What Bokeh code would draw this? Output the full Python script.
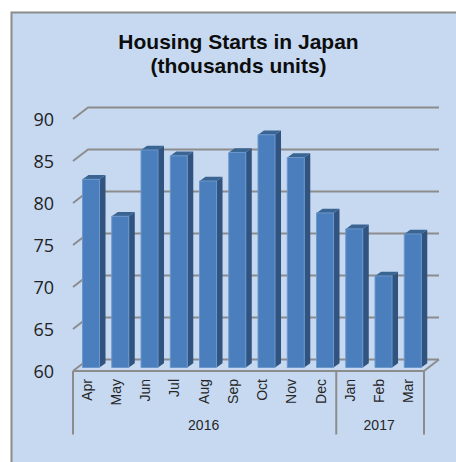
from bokeh.plotting import figure
from bokeh.embed import file_html
from bokeh.resources import INLINE
from bokeh.core.properties import value

# --- data ---
months = ["Apr", "May", "Jun", "Jul", "Aug", "Sep", "Oct", "Nov", "Dec", "Jan", "Feb", "Mar"]
starts = [82.4, 78.0, 85.9, 85.2, 82.2, 85.6, 87.7, 85.0, 78.4, 76.5, 70.9, 75.9]
years = ["2016", "2017"]
year_spans = [(0, 9), (9, 12)]
y_ticks = [60, 65, 70, 75, 80, 85, 90]
title_lines = ["Housing Starts in Japan", "(thousands units)"]

# --- geometry expressed in axis units ---
PX_X = 29.25   # px per category
PX_Y = 8.4     # px per value unit
W, H = 456, 462
X0_PAGE, Y0_PAGE = 72.5, 370.5   # page position of the axis origin
xr = (-X0_PAGE / PX_X, (W - X0_PAGE) / PX_X)
yr = (60 - (H - Y0_PAGE) / PX_Y, 60 + Y0_PAGE / PX_Y)

GRID = "#8c8c8c"
BG = "#c6d9f1"
depth_x, depth_y = 15 / PX_X, 11.5 / PX_Y          # chart depth
plane_x, plane_y = 3.4 / PX_X, 3.5 / PX_Y          # bar front plane inside depth
bar_w = 17 / PX_X
bar_dx, bar_dy = 6 / PX_X, 4.3 / PX_Y              # bar depth

p = figure(width=W, height=H, x_range=xr, y_range=yr, output_backend="svg",
           toolbar_location=None, min_border=0, outline_line_color=None,
           background_fill_color=None, border_fill_color="white")
p.xaxis.visible = False
p.yaxis.visible = False
p.grid.visible = False

# chart-area panel with its grey left and top edges
panel_l = (10 - X0_PAGE) / PX_X
panel_t = 60 + (Y0_PAGE - 11) / PX_Y
edge_x = 2 / PX_X
edge_y = 2 / PX_Y
p.quad(left=panel_l, right=xr[1], top=panel_t, bottom=yr[0], fill_color=GRID, line_color=None)
p.quad(left=panel_l + edge_x, right=xr[1], top=panel_t - edge_y, bottom=yr[0],
       fill_color=BG, line_color=None)

n = len(months)
# gridlines with the slanted left wall
for t in y_ticks:
    p.line([0, depth_x, n + depth_x], [t, t + depth_y, t + depth_y],
           line_color=GRID, line_width=2)
# floor
p.line([n, n + depth_x], [60, 60 + depth_y], line_color=GRID, line_width=2)
p.line([0, n], [60, 60], line_color=GRID, line_width=2)

# bars
for i, v in enumerate(starts):
    x0 = i + 0.5 + plane_x - bar_w / 2
    x1 = x0 + bar_w
    b = 60 + plane_y
    top = v + plane_y
    p.patch([x1, x1 + bar_dx, x1 + bar_dx, x1],
            [b, b + bar_dy, top + bar_dy, top], fill_color="#30547f", line_color=None)
    p.patch([x0, x0 + bar_dx, x1 + bar_dx, x1],
            [top, top + bar_dy, top + bar_dy, top], fill_color="#3a6492", line_color=None)
    p.quad(left=x0, right=x1, bottom=b, top=top, fill_color="#4b7ebc",
           line_color="#6b97cb", line_width=1)

# category dividers
drop = 63.5 / PX_Y
for d in [0, 9, 12]:
    p.line([d, d], [60, 60 - drop], line_color=GRID, line_width=2)

# texts
p.text(x=[-0.65] * len(y_ticks), y=y_ticks, text=[str(t) for t in y_ticks],
       text_align="right", text_baseline="middle", text_color="#222222",
       text_font=value("Open Sans"), text_font_size="18px")
p.text(x=[i + 0.5 - 1 / PX_X for i in range(n)], y=[60 - 8 / PX_Y] * n, text=months, angle=1.5708,
       text_align="right", text_baseline="middle", text_color="#262626",
       text_font=value("Liberation Sans"), text_font_size="14px")
p.text(x=[(a + b) / 2 - 1 / PX_X for a, b in year_spans], y=[60 - 53.5 / PX_Y] * 2, text=years,
       text_align="center", text_baseline="middle", text_color="#262626",
       text_font=value("Liberation Sans"), text_font_size="14px")
p.text(x=[(238 - X0_PAGE) / PX_X] * 2, y=[60 + (Y0_PAGE - 41) / PX_Y, 60 + (Y0_PAGE - 65) / PX_Y],
       text=title_lines, text_align="center", text_baseline="middle", text_color="#0d0d0d",
       text_font=value("Liberation Sans"), text_font_style="bold", text_font_size="21px")

open("out.html", "w").write(file_html(p, INLINE))
